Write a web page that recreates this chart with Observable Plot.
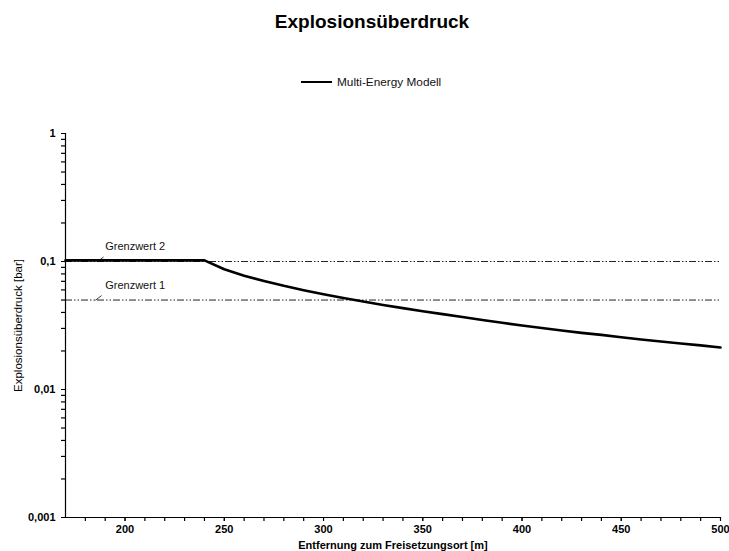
<!DOCTYPE html>
<html>
<head>
<meta charset="utf-8">
<script src="https://cdn.jsdelivr.net/npm/d3@7"></script>
<script src="https://cdn.jsdelivr.net/npm/@observablehq/plot@0.6"></script>
<style>
  html, body { margin: 0; padding: 0; background: #fff; }
  body { font-family: "Liberation Sans", Arial, sans-serif; }
  #wrap { position: relative; width: 729px; height: 551px; }
  #title { position: absolute; left: 372px; top: 12px; transform: translateX(-50%); font-size: 19px; font-weight: bold; line-height: 19px; white-space: nowrap; color: #000; }
  #legend { position: absolute; left: 301px; top: 76px; font-size: 11.8px; line-height: 12px; white-space: nowrap; color: #111; display: flex; align-items: center; }
  #legend .sw { width: 31px; height: 0; border-top: 2.5px solid #000; margin-right: 5px; }
  #chart { position: absolute; left: 0; top: 0; }
</style>
</head>
<body>
<div id="wrap">
  <div id="chart"></div>
  <div id="title">Explosionsüberdruck</div>
  <div id="legend"><span class="sw"></span><span>Multi-Energy Modell</span></div>
</div>
<script>
// Multi-Energy model curve (distance in m, overpressure in bar)
const distance = [170, 180, 190, 200, 210, 220, 230, 240, 250, 260, 270, 280, 290, 300, 310, 320, 330, 340, 350, 360, 370, 380, 390, 400, 410, 420, 430, 440, 450, 460, 470, 480, 490, 500];
const pressure = [0.102, 0.102, 0.102, 0.102, 0.102, 0.102, 0.102, 0.102, 0.087, 0.0775, 0.0705, 0.0646, 0.0597, 0.0555, 0.0519, 0.0487, 0.0457, 0.0432, 0.0409, 0.0388, 0.0368, 0.0349, 0.0332, 0.0316, 0.0302, 0.0289, 0.0277, 0.0267, 0.0256, 0.0246, 0.0237, 0.0229, 0.0221, 0.0213];

// Threshold lines
const thresholdNames = ["Grenzwert 1", "Grenzwert 2"];
const thresholdValues = [0.05, 0.1];
const thresholdLabelX = [190, 190];
const thresholdLeaderX = [185.2, 186.2];

// Axis ticks
const xMinorTicks = d3.range(180, 501, 10);
const xMajorTicks = [200, 250, 300, 350, 400, 450, 500];
const yMajorTicks = [0.001, 0.01, 0.1, 1];
const yMinorTicks = [0.002,0.003,0.004,0.005,0.006,0.007,0.008,0.009,0.02,0.03,0.04,0.05,0.06,0.07,0.08,0.09,0.2,0.3,0.4,0.5,0.6,0.7,0.8,0.9];

const curve = distance.map((d, i) => ({x: d, y: pressure[i]}));
const thresholds = thresholdNames.map((n, i) => ({name: n, value: thresholdValues[i], lx: thresholdLabelX[i], kx: thresholdLeaderX[i]}));

const fmt = v => String(v).replace(".", ",");

const leaderShape = {
  draw(context, l) { context.moveTo(0, 0); context.lineTo(0, -l); }
};

const chart = Plot.plot({
  width: 729,
  height: 551,
  marginLeft: 65,
  marginRight: 9,
  marginTop: 133,
  marginBottom: 34,
  style: {fontFamily: "'Liberation Sans', Arial, sans-serif", fontSize: "11px", color: "#000", background: "transparent"},
  x: {domain: [170, 500]},
  y: {type: "log", domain: [0.001, 1]},
  marks: [
    Plot.ruleY(thresholds, {y: "value", stroke: "#222", strokeWidth: 1, strokeDasharray: "7,2,1.5,2,1.5,2"}),
    Plot.vector(thresholds, {x: "kx", y: "value", length: 7, rotate: 53, anchor: "start", shape: leaderShape, stroke: "#222", strokeWidth: 0.8}),
    Plot.text(thresholds, {x: "lx", y: "value", text: "name", dy: -15, textAnchor: "start", fontSize: 11, fill: "#111"}),
    Plot.line(curve, {x: "x", y: "y", stroke: "#000", strokeWidth: 2.6}),
    Plot.axisX(xMinorTicks, {tickSize: 4, tickFormat: () => "", strokeWidth: 1.2, label: null}),
    Plot.axisX(xMajorTicks, {tickSize: 4, tickPadding: 4, fontWeight: "bold", fontSize: 11, label: "Entfernung zum Freisetzungsort [m]", labelAnchor: "center", labelArrow: "none", labelOffset: 31}),
    Plot.axisY(yMinorTicks, {tickSize: 4, tickFormat: () => "", strokeWidth: 1.2, label: null}),
    Plot.axisY(yMajorTicks, {tickSize: 4, tickPadding: 6, tickFormat: fmt, fontWeight: "bold", fontSize: 11, label: null}),
    Plot.axisY([], {tickSize: 0, fontSize: 11.5, label: "Explosionsüberdruck [bar]", labelAnchor: "center", labelArrow: "none", labelOffset: 52}),
    Plot.ruleX([170], {stroke: "#000", strokeWidth: 1.2}),
    Plot.ruleY([0.001], {stroke: "#000", strokeWidth: 1.2})
  ]
});
document.getElementById("chart").appendChild(chart);
</script>
</body>
</html>
